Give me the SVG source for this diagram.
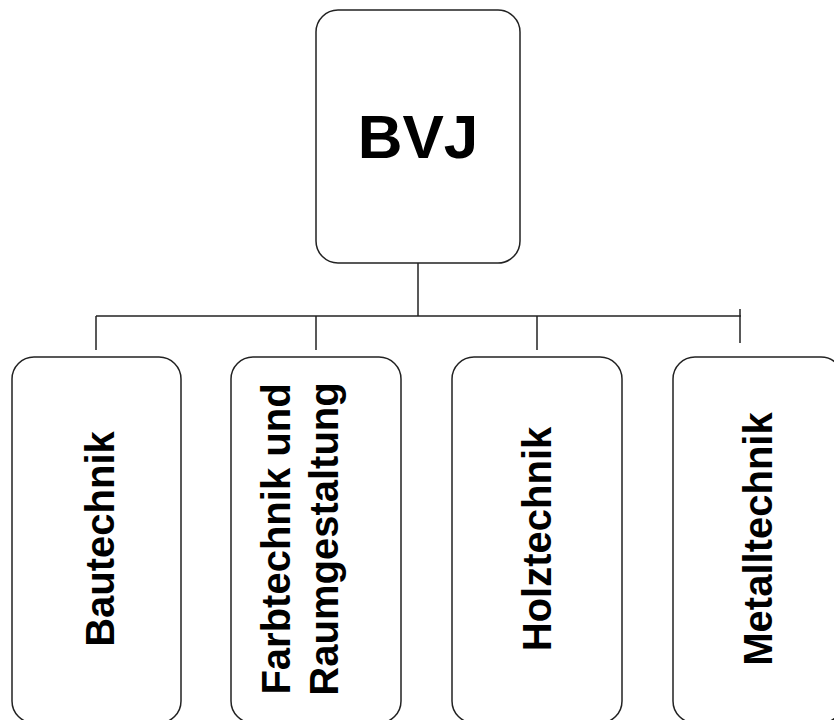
<svg xmlns="http://www.w3.org/2000/svg" width="834" height="720" viewBox="0 0 834 720">
<style>
.box{fill:#fff;stroke:#222;stroke-width:1.5}
.conn{stroke:#222;stroke-width:1.5;fill:none}
.lbl{font-family:"Liberation Sans",Arial,sans-serif;font-weight:bold;font-size:40px;fill:#000;text-anchor:middle}
.big{font-family:"Liberation Sans",Arial,sans-serif;font-weight:bold;font-size:62px;fill:#000;text-anchor:middle}
</style>
<rect width="834" height="720" fill="#fff"/>
<g id="connectors">
<line class="conn" x1="418" y1="263" x2="418" y2="316"/>
<line class="conn" x1="96" y1="316" x2="741" y2="316"/>
<line class="conn" x1="96" y1="316" x2="96" y2="350"/>
<line class="conn" x1="316" y1="316" x2="316" y2="350"/>
<line class="conn" x1="537" y1="316" x2="537" y2="350"/>
<line class="conn" x1="740" y1="309" x2="740" y2="343"/>
</g>
<g id="bvj">
<rect class="box" x="316" y="10" width="204" height="253" rx="22"/>
<text class="big" x="418" y="158">BVJ</text>
</g>
<g id="bautechnik">
<rect class="box" x="12" y="357" width="169" height="366" rx="22"/>
<text class="lbl" transform="translate(114,539) rotate(-90)">Bautechnik</text>
</g>
<g id="farbtechnik">
<rect class="box" x="231" y="357" width="170" height="366" rx="22"/>
<text class="lbl" transform="translate(290,539) rotate(-90)">Farbtechnik und</text>
<text class="lbl" transform="translate(338,539) rotate(-90)">Raumgestaltung</text>
</g>
<g id="holztechnik">
<rect class="box" x="452" y="357" width="170" height="366" rx="22"/>
<text class="lbl" transform="translate(551,539) rotate(-90)">Holztechnik</text>
</g>
<g id="metalltechnik">
<rect class="box" x="673" y="357" width="170" height="366" rx="22"/>
<text class="lbl" transform="translate(772,539) rotate(-90)">Metalltechnik</text>
</g>
</svg>
